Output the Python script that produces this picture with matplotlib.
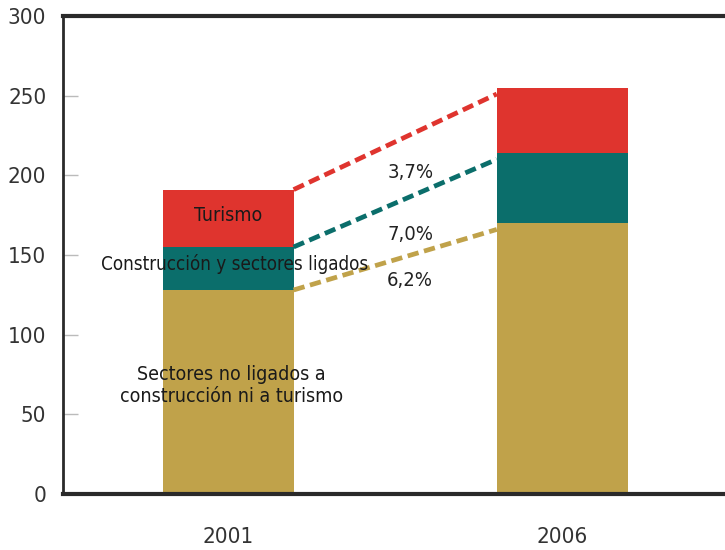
import matplotlib.pyplot as plt
import numpy as np

plt.rcParams['font.family'] = ['DejaVu Sans']
plt.rcParams['font.stretch'] = 'condensed'

# data (stacked values)
years = ['2001', '2006']
resto = [128, 170]        # sectores no ligados a construccion ni turismo
construccion = [27, 44]   # construccion y sectores ligados
turismo = [36, 41]        # turismo
growth_labels = ['3,7%', '7,0%', '6,2%']

gold = '#c0a24a'
teal = '#0b6e6b'
red = '#df342e'

fig = plt.figure(figsize=(7.25, 5.5), dpi=100)
ax = fig.add_axes([0.087, 0.102, 0.919, 0.869])

x = np.arange(len(years))
w = 0.392
b1 = np.array(resto)
b2 = b1 + np.array(construccion)
b3 = b2 + np.array(turismo)

ax.bar(x, resto, w, color=gold)
ax.bar(x, construccion, w, bottom=b1, color=teal)
ax.bar(x, turismo, w, bottom=b2, color=red)

# dashed connectors between segment tops
xl = [x[0] + w / 2, x[1] - w / 2]
for tops, c in [(b3, red), (b2, teal), (b1, gold)]:
    ax.plot(xl, [tops[0], tops[1] - 4], ls=(0, (2.4, 1.2)), lw=3.4, color=c)

ax.text(0.545, 202, growth_labels[0], ha='center', va='center', fontsize=14.5, color='#222222')
ax.text(0.545, 163, growth_labels[1], ha='center', va='center', fontsize=14.5, color='#222222')
ax.text(0.545, 134, growth_labels[2], ha='center', va='center', fontsize=14.5, color='#222222')

ax.text(0, 175, 'Turismo', ha='center', va='center', fontsize=14, color='#1a1a1a')
ax.text(0.02, 144, 'Construcción y sectores ligados', ha='center', va='center',
        fontsize=13.5, color='#1a1a1a')
ax.text(0.01, 68, 'Sectores no ligados a\nconstrucción ni a turismo', ha='center',
        va='center', fontsize=14, color='#1a1a1a', linespacing=1.25)

ax.set_xlim(-0.494, 1.5)
ax.set_ylim(0, 300)
ax.set_yticks(np.arange(0, 301, 50))
ax.set_xticks(x)
ax.set_xticklabels(years)

ax.spines['right'].set_visible(False)
ax.spines['top'].set_linewidth(3)
ax.spines['bottom'].set_linewidth(3)
ax.spines['left'].set_linewidth(2)
for s in ['top', 'bottom', 'left']:
    ax.spines[s].set_color('#2a2a2a')

ax.tick_params(axis='y', direction='in', length=11, width=1, color='#bbbbbb',
               labelsize=16, labelcolor='#333333', pad=12)
ax.tick_params(axis='x', length=0, labelsize=16, labelcolor='#333333', pad=24)

fig.savefig('out.png', dpi=100)
